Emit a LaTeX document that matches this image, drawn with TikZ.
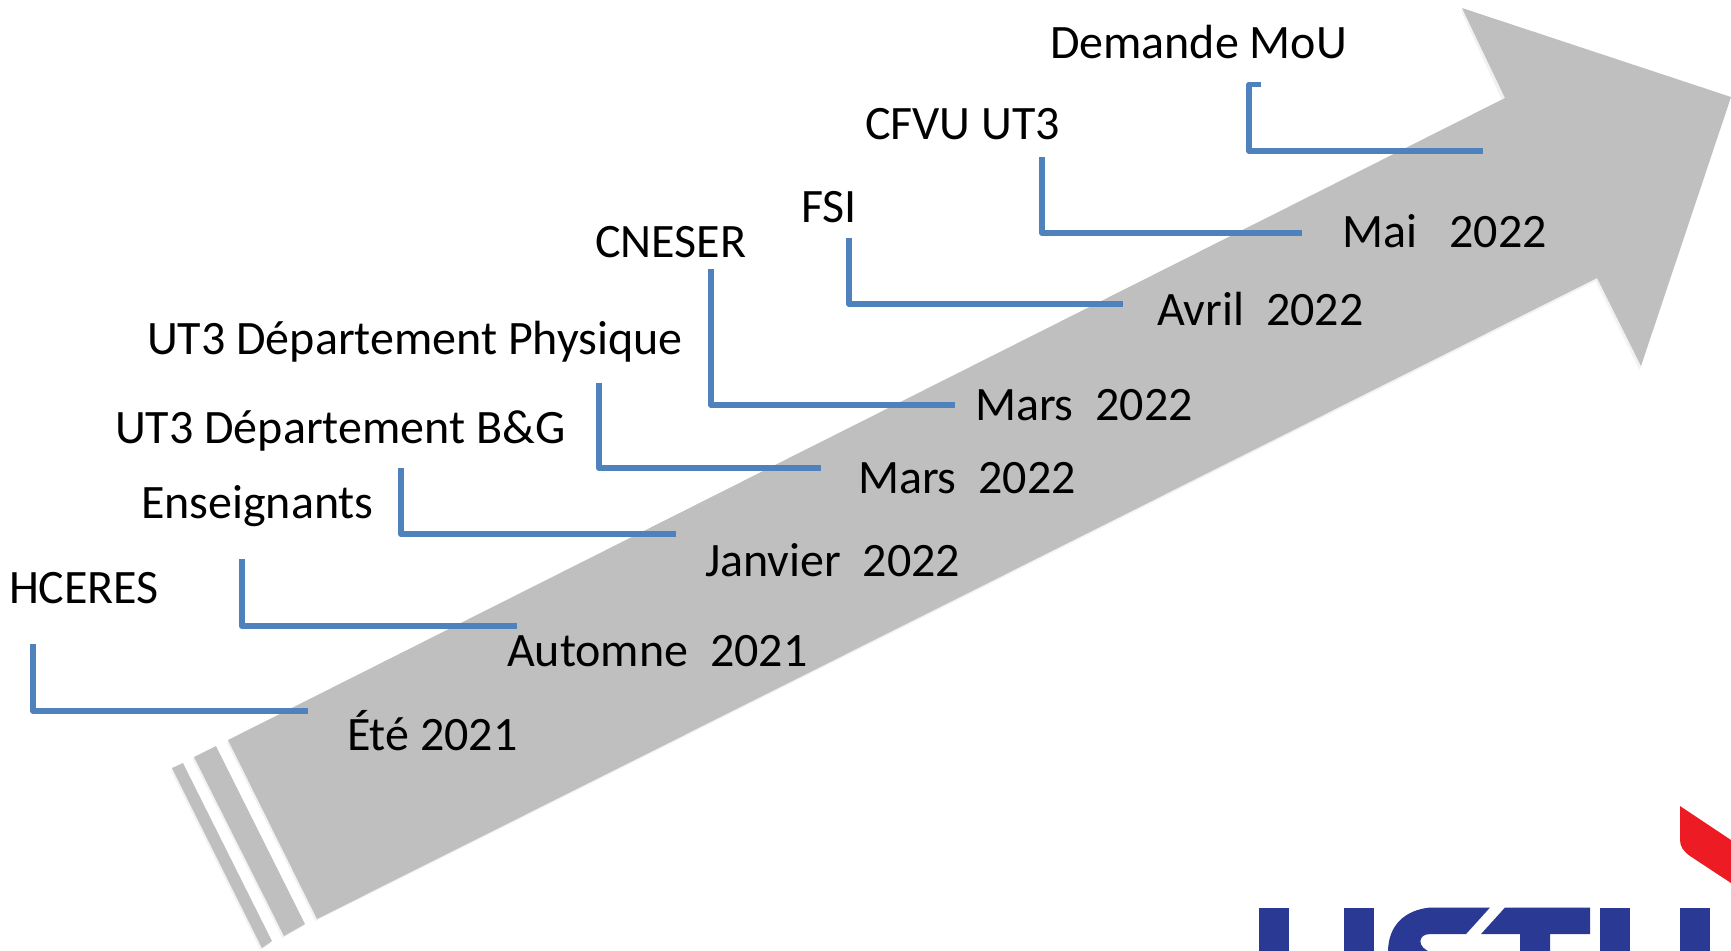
\documentclass[tikz,border=0pt]{standalone}
\usepackage{fontspec}
\setmainfont{Carlito}
\definecolor{arrowgrey}{HTML}{BFBFBF}
\definecolor{linkblue}{HTML}{4F81BD}
\definecolor{logoblue}{HTML}{2A3A94}
\definecolor{logored}{HTML}{ED1C24}
\tikzset{
  px/.style={x=0.01cm,y=-0.01cm},
  label/.style={anchor=base west,inner sep=0pt,outer sep=0pt,font=\fontsize{13.65pt}{15pt}\selectfont,text=black},
  linkshadow/.style={draw=black,opacity=0.16,line width=1.6pt,line join=round,shift={(1.5,3.5)}},
  link/.style={draw=linkblue,line width=1.6pt,line join=round},
  greyshape/.style={fill=arrowgrey},
  greyshadow/.style={fill=black,opacity=0.05,shift={(-1.5,2)}},
  logob/.style={fill=logoblue},
  logor/.style={fill=logored}
}
\newcommand{\elbow}[4]{%
  \coordinate (#1a) at #2;
  \coordinate (#1b) at #3;
  \coordinate (#1c) at #4;
  \draw[linkshadow] (#1a) -- (#1b) -- (#1c);
  \draw[link] (#1a) -- (#1b) -- (#1c);
}
\begin{document}
\begin{tikzpicture}[px]
\useasboundingbox (0,0) rectangle (1731,950);
\clip (0,0) rectangle (1731,950);
\fill[white] (0,0) rectangle (1731,950);
% arrow with shadow
\fill[greyshadow] (228,740) -- (1504,99) -- (1462,8) -- (1729,97) -- (1641,368) -- (1597,279) -- (317,919) -- cycle;
\fill[greyshadow] (194,757) -- (216,746) -- (305,924) -- (284,936) -- cycle;
\fill[greyshadow] (172,768) -- (183,763) -- (272,941) -- (262,948) -- cycle;
\fill[greyshape] (228,740) -- (1505,98) -- (1462,8) -- (1731,97) -- (1641,366) -- (1597,278) -- (317,919) -- cycle;
\fill[greyshape] (194,757) -- (216,746) -- (305,924) -- (284,936) -- cycle;
\fill[greyshape] (172,768) -- (183,763) -- (272,941) -- (262,948) -- cycle;
% connectors
\elbow{l1}{(33,644)}{(33,711)}{(308,711)}
\elbow{l2}{(242,559)}{(242,626)}{(517,626)}
\elbow{l3}{(401,468)}{(401,534)}{(676,534)}
\elbow{l4}{(599,383)}{(599,468)}{(821,468)}
\elbow{l5}{(711,269)}{(711,405)}{(955,405)}
\elbow{l6}{(849,238)}{(849,304)}{(1123,304)}
\elbow{l7}{(1042,157)}{(1042,233)}{(1302,233)}
\coordinate (l8a) at (1261,84.5);
\coordinate (l8b) at (1249,84.5);
\coordinate (l8c) at (1249,151);
\coordinate (l8d) at (1483,151);
\draw[linkshadow] (l8a) -- (l8b) -- (l8c) -- (l8d);
\draw[link] (l8a) -- (l8b) -- (l8c) -- (l8d);
% labels
\node[label] (demande) at (1050,58) {Demande MoU};
\node[label] (cfvu) at (865,139) {CFVU UT3};
\node[label] (fsi) at (801,222) {FSI};
\node[label] (cneser) at (595,257) {CNESER};
\node[label] (physique) at (147,354.5) {UT3 Département Physique};
\node[label] (bg) at (115,443) {UT3 Département B\&G};
\node[label] (enseignants) at (141,518.5) {Enseignants};
\node[label] (hceres) at (9,603.5) {HCERES};
\node[label] (ete) at (347,750) {Été 2021};
\node[label] (automne) at (507,666) {Automne\ \ 2021};
\node[label] (janvier) at (705,576) {Janvier\ \ 2022};
\node[label] (marsa) at (858,493) {Mars\ \ 2022};
\node[label] (marsb) at (975,420) {Mars\ \ 2022};
\node[label] (avril) at (1157,325) {Avril\ \ 2022};
\node[label] (mai) at (1342,247) {Mai\ \ \ 2022};
% logo, cut by the picture edge
\fill[logor] (1680,806) -- (1731,840) -- (1731,883) -- (1690,856) .. controls (1683,851) and (1680,846) .. (1680,840) -- cycle;
\fill[logob] (1259,907.5) rectangle (1289,960);
\fill[logob] (1344,907.5) rectangle (1374,960);
\fill[logob] (1490,907.5) -- (1430,907.5) .. controls (1405,910) and (1388,925) .. (1388,952) -- (1431,952) .. controls (1417,948) and (1417,934) .. (1430,934) -- (1466,934) -- cycle;
\fill[logob] (1505,907.5) -- (1590,907.5) -- (1590,934) -- (1550,934) -- (1550,960) -- (1520,960) -- (1520,934) -- (1481,934) -- cycle;
\fill[logob] (1600,907.5) rectangle (1630,960);
\fill[logob] (1680,907.5) rectangle (1710,960);
\end{tikzpicture}
\end{document}
